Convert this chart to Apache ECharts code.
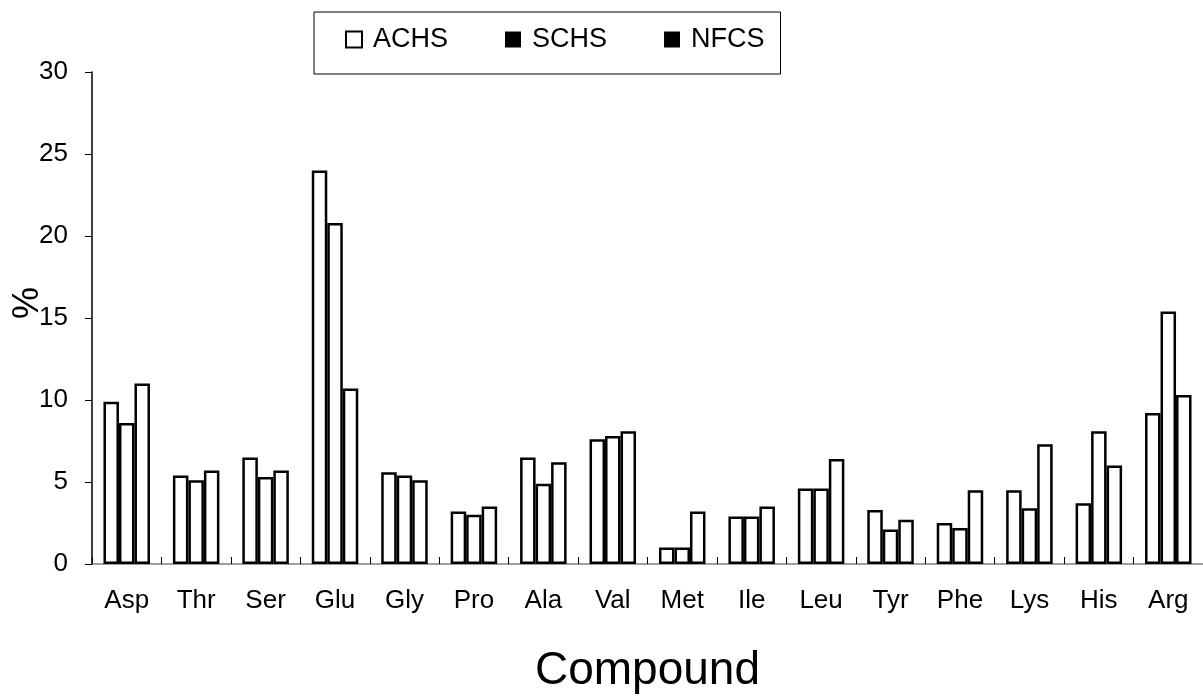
<!DOCTYPE html>
<html>
<head>
<meta charset="utf-8">
<script src="https://cdn.jsdelivr.net/npm/echarts@6/dist/echarts.min.js"></script>
<style>
html,body{margin:0;padding:0;background:#fff;}
#chart{width:1203px;height:700px;}
</style>
</head>
<body>
<div id="chart"></div>
<script>
const categories = ['Asp','Thr','Ser','Glu','Gly','Pro','Ala','Val','Met','Ile','Leu','Tyr','Phe','Lys','His','Arg'];
const achs = [9.9, 5.4, 6.5, 24.0, 5.6, 3.2, 6.5, 7.6, 1.0, 2.9, 4.6, 3.3, 2.5, 4.5, 3.7, 9.2];
const schs = [8.6, 5.1, 5.3, 20.8, 5.4, 3.0, 4.9, 7.8, 1.0, 2.9, 4.6, 2.1, 2.2, 3.4, 8.1, 15.4];
const nfcs = [11.0, 5.7, 5.7, 10.7, 5.1, 3.5, 6.2, 8.1, 3.2, 3.5, 6.4, 2.7, 4.5, 7.3, 6.0, 10.3];
const yTicks = {min: 0, max: 30, interval: 5};
const seriesNames = ['ACHS', 'SCHS', 'NFCS'];
const xTitle = 'Compound';
const yTitle = '%';

const FONT = 'Liberation Sans, Arial, sans-serif';
const chart = echarts.init(document.getElementById('chart'), null, {renderer: 'canvas'});
const barStyle = {color: '#ffffff', borderColor: '#000000', borderWidth: 2.5};
const mk = (name, data) => ({
  name, type: 'bar', data, barWidth: 15.5, barGap: '0%',
  itemStyle: barStyle, emphasis: {disabled: true}, animation: false
});
chart.setOption({
  animation: false,
  backgroundColor: '#ffffff',
  textStyle: {fontFamily: FONT},
  grid: {left: 92, right: -10, top: 72, bottom: 136, containLabel: false},
  legend: {
    left: 314, top: 12,
    orient: 'horizontal',
    borderColor: '#000', borderWidth: 1,
    padding: [14, 16, 21, 31],
    itemWidth: 16, itemHeight: 16, itemGap: 57,
    icon: 'rect',
    selectedMode: false,
    textStyle: {fontFamily: FONT, fontSize: 27, color: '#000', padding: [0, 0, 0, 6]},
    data: [
      {name: seriesNames[0], itemStyle: {color: '#fff', borderColor: '#000', borderWidth: 2}},
      {name: seriesNames[1], itemStyle: {color: '#000', borderColor: '#000', borderWidth: 0}},
      {name: seriesNames[2], itemStyle: {color: '#000', borderColor: '#000', borderWidth: 0}}
    ]
  },
  xAxis: {
    type: 'category', data: categories,
    name: xTitle, nameLocation: 'middle', nameGap: 84,
    nameTextStyle: {fontFamily: FONT, fontSize: 46, color: '#000'},
    axisLine: {lineStyle: {color: '#808080', width: 1.5}},
    axisTick: {show: true, inside: true, length: 7, lineStyle: {color: '#000', width: 1}},
    axisLabel: {fontFamily: FONT, fontSize: 26, color: '#000', margin: 24, interval: 0}
  },
  yAxis: {
    type: 'value', min: yTicks.min, max: yTicks.max, interval: yTicks.interval,
    axisLine: {show: true, lineStyle: {color: '#000', width: 1.5}},
    axisTick: {show: true, inside: false, length: 7, lineStyle: {color: '#000', width: 1}},
    splitLine: {show: false},
    axisLabel: {fontFamily: FONT, fontSize: 26, color: '#000', margin: 24}
  },
  graphic: [{
    type: 'text', left: 10, top: 287,
    rotation: Math.PI / 2,
    style: {text: yTitle, fontFamily: FONT, fontSize: 36, fill: '#000'}
  }],
  series: [mk(seriesNames[0], achs), mk(seriesNames[1], schs), mk(seriesNames[2], nfcs)]
});
</script>
</body>
</html>
